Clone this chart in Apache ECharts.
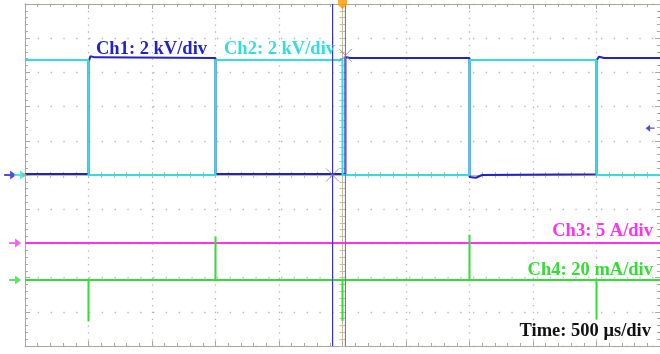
<!DOCTYPE html>
<html>
<head>
<meta charset="utf-8">
<script src="https://cdn.jsdelivr.net/npm/echarts@6/dist/echarts.min.js"></script>
<style>html,body{margin:0;padding:0;background:#fff}#c{width:660px;height:354px}</style>
</head>
<body>
<div id="c"></div>
<script>
// time in microseconds relative to trigger (500 us/div), level in divisions
const ch1 = [[-2500,0.03],[-2000,0.03],[-2000,3.3],[-1985,3.47],[-1950,3.44],[-1000,3.42],[-1000,0.03],[23,0.03],[23,3.45],[60,3.42],[1000,3.42],[1000,-0.06],[1050,-0.08],[1100,0.0],[2000,0.02],[2000,3.35],[2020,3.46],[2060,3.42],[2500,3.42]];
const ch2 = [[-2500,3.36],[-2000,3.36],[-2000,0],[-1000,0],[-1000,3.36],[0,3.36],[0,0],[1000,0],[1000,3.36],[2000,3.36],[2000,0],[2500,0]];
const ch3 = [[-2500,-1.99],[2500,-1.99]];
const ch4 = [[-2500,-3.07],[-2000,-3.07],[-2000,-4.28],[-2000,-3.07],[-1000,-3.07],[-1000,-1.8],[-1000,-3.07],[0,-3.07],[0,-4.27],[0,-3.07],[1000,-3.07],[1000,-1.75],[1000,-3.07],[2000,-3.07],[2000,-4.22],[2000,-3.07],[2500,-3.07]];
const cursorA = [[-78,-5],[-78,5]];
const cursorB = [[23,-5],[23,5]];
const crossMarks = [[-78,0],[23,3.5]];
const refArrowsRight = [[-2617,0,'#2222cc'],[-2539,0,'#33dddd'],[-2578,-1.99,'#ff33ee'],[-2578,-3.07,'#33dd33']];
const refArrowsLeft = [[2422,1.37,'#2222cc']];
const labels = ['Ch1: 2 kV/div','Ch2: 2 kV/div','Ch3: 5 A/div','Ch4: 20 mA/div','Time: 500 \u03bcs/div'];

const edgeColor = '#a8a8a0';
const centerColor = '#c4bc9c';
const dotted = {show:true, lineStyle:{color:'#b4b4b4', width:1.3, type:[1.3,11.5]}};
const dottedV = {show:true, lineStyle:{color:'#b4b4b4', width:1.3, type:[1.3,5.54]}};

function xAx(pos, onZero, inside, split){
  return {type:'value', min:-2500, max:2500, interval:500, position:pos,
    axisLine:{show:true, onZero:onZero, onZeroAxisIndex:0, lineStyle:{color:onZero?centerColor:edgeColor, width:1}},
    axisTick:{show:true, inside:inside, length:onZero?3:5, lineStyle:{color:onZero?centerColor:edgeColor}},
    minorTick:{show:true, splitNumber:5, length:3, lineStyle:{color:onZero?centerColor:edgeColor}},
    axisLabel:{show:false}, splitLine: split?dottedV:{show:false}, minorSplitLine:{show:false}};
}
function yAx(pos, onZero, inside, split){
  return {type:'value', min:-5, max:5, interval:1, position:pos,
    axisLine:{show:true, onZero:onZero, onZeroAxisIndex:0, lineStyle:{color:onZero?centerColor:edgeColor, width:1}},
    axisTick:{show:true, inside:inside, length:onZero?3:5, lineStyle:{color:onZero?centerColor:edgeColor}},
    minorTick:{show:true, splitNumber:5, length:3, lineStyle:{color:onZero?centerColor:edgeColor}},
    axisLabel:{show:false}, splitLine: split?dotted:{show:false}, minorSplitLine:{show:false}};
}
function lineSeries(data, color, w, z){
  return {type:'line', data:data, showSymbol:false, symbol:'none', lineStyle:{color:color, width:w}, z:z, silent:true, animation:false};
}
const arrowR = 'path://M0,4L6,4L6,0L12,5L6,10L6,6L0,6Z';
const arrowL = 'path://M12,4L6,4L6,0L0,5L6,10L6,6L12,6Z';
const font = 'bold 18.5px "Liberation Serif"';

const chart = echarts.init(document.getElementById('c'), null, {renderer:'canvas'});
chart.setOption({
  animation:false,
  backgroundColor:'#ffffff',
  grid:{left:25, top:4, width:640, height:342},
  xAxis:[xAx('bottom',false,true,true), xAx('top',false,true,false), xAx('bottom',true,true,false), xAx('top',true,true,false)],
  yAxis:[yAx('left',false,true,true), yAx('right',false,true,false), yAx('left',true,true,false), yAx('right',true,true,false)],
  series:[
    lineSeries(ch1, '#2222cc', 2, 4),
    lineSeries(ch2, '#33dddd', 2, 5),
    lineSeries(cursorB, '#6a6aa8', 1, 6),
    lineSeries(ch3, '#ff33ee', 2, 4),
    lineSeries(ch4, '#33dd33', 2, 5),
    lineSeries(cursorA, '#3535c8', 1.2, 6),
    {type:'scatter', data:crossMarks, symbol:'path://M0,0L10,10M10,0L0,10', symbolSize:13,
      itemStyle:{color:'none', borderColor:'#8080a0', borderWidth:1}, z:7, silent:true},
    {type:'scatter', data:[[0,5]], symbol:'path://M0,0L10,0L10,6L5,10L0,6Z', symbolSize:[9,10], symbolOffset:[0,0],
      itemStyle:{color:'#ff9900'}, z:8, clip:false, silent:true},
    {type:'scatter', data:[[-2500,0]], symbol:'triangle', symbolRotate:-90, symbolSize:5,
      itemStyle:{color:'#ff9900'}, z:8, clip:false, silent:true},
    {type:'scatter', data:refArrowsRight.map(a=>({value:[a[0],a[1]], itemStyle:{color:a[2]}})), symbol:arrowR, symbolSize:[12,9],
      z:8, clip:false, silent:true},
    {type:'scatter', data:refArrowsLeft.map(a=>({value:[a[0],a[1]], itemStyle:{color:a[2]}})), symbol:arrowL, symbolSize:[9,7],
      z:8, clip:false, silent:true}
  ],
  graphic:[
    {type:'text', left:96, top:40, z:20, style:{text:labels[0], fill:'#2222cc', font:font}},
    {type:'text', left:224, top:40, z:20, style:{text:labels[1], fill:'#33dddd', font:font}},
    {type:'text', right:7, top:222, z:20, style:{text:labels[2], fill:'#ff33ee', font:font}},
    {type:'text', right:7, top:261, z:20, style:{text:labels[3], fill:'#33dd33', font:font}},
    {type:'text', right:9, top:322, z:20, style:{text:labels[4], fill:'#111111', font:font}}
  ]
});
</script>
</body>
</html>
